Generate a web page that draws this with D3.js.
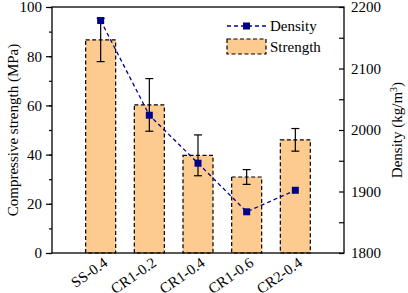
<!DOCTYPE html>
<html>
<head>
<meta charset="utf-8">
<script src="https://cdn.jsdelivr.net/npm/d3@7"></script>
<style>
  html, body { margin: 0; padding: 0; background: #fff; }
</style>
</head>
<body>
<div id="chart"></div>
<script>
// data
const categories = ["SS-0.4", "CR1-0.2", "CR1-0.4", "CR1-0.6", "CR2-0.4"];
const strength = [86.6, 60.2, 39.7, 30.9, 46.0];
const strengthErr = [8.8, 10.7, 8.3, 3.0, 4.6];
const density = [2178, 2024, 1946, 1867, 1902];
const leftTicks = [0, 20, 40, 60, 80, 100];
const rightTicks = [1800, 1900, 2000, 2100, 2200];

const width = 408, height = 293;
const margin = { top: 7, right: 64, bottom: 40, left: 52 };
const x0 = margin.left, x1 = width - margin.right;
const y0 = height - margin.bottom, y1 = margin.top;

// pick a serif face that is really installed
function pickFont(list) {
    const ctx = document.createElement("canvas").getContext("2d");
    const probe = "Compressive strength 0123";
    ctx.font = "40px monospace";
    const base = ctx.measureText(probe).width;
    for (const f of list) {
        ctx.font = `40px "${f}", monospace`;
        if (Math.abs(ctx.measureText(probe).width - base) > 0.5) return `"${f}", serif`;
    }
    return "serif";
}
const serif = pickFont(["Liberation Serif", "Times New Roman", "Tinos", "DejaVu Serif", "Noto Serif", "FreeSerif"]);
const barFill = "#fdcb8f";
const lineColor = "#00008b";
const fontSize = 15;

const svg = d3.select("#chart").append("svg")
    .attr("width", width)
    .attr("height", height)
    .style("font-family", serif);

const xScale = d3.scalePoint().domain(categories).range([x0, x1]).padding(1);
const yLeft = d3.scaleLinear().domain([0, 100]).range([y0, y1]);
const yRight = d3.scaleLinear().domain([1800, 2200]).range([y0, y1]);

// bars
const barW = 30;
svg.append("g").selectAll("rect")
    .data(categories)
    .join("rect")
    .attr("x", (d) => xScale(d) - barW / 2)
    .attr("y", (d, i) => yLeft(strength[i]))
    .attr("width", barW)
    .attr("height", (d, i) => yLeft(0) - yLeft(strength[i]))
    .attr("fill", barFill)
    .attr("stroke", "#000")
    .attr("stroke-width", 1.2)
    .attr("stroke-dasharray", "4,2.5");

// error bars
const errG = svg.append("g").attr("stroke", "#000").attr("stroke-width", 1.2);
categories.forEach((c, i) => {
    const cx = xScale(c);
    const hi = yLeft(strength[i] + strengthErr[i]);
    const lo = yLeft(strength[i] - strengthErr[i]);
    errG.append("line").attr("x1", cx).attr("x2", cx).attr("y1", hi).attr("y2", lo);
    errG.append("line").attr("x1", cx - 4).attr("x2", cx + 4).attr("y1", hi).attr("y2", hi);
    errG.append("line").attr("x1", cx - 4).attr("x2", cx + 4).attr("y1", lo).attr("y2", lo);
});

// density line
const line = d3.line()
    .x((d, i) => xScale(categories[i]))
    .y((d) => yRight(d));
svg.append("path")
    .datum(density)
    .attr("d", line)
    .attr("fill", "none")
    .attr("stroke", lineColor)
    .attr("stroke-width", 1.3)
    .attr("stroke-dasharray", "4,3");
svg.append("g").selectAll("rect")
    .data(density)
    .join("rect")
    .attr("x", (d, i) => xScale(categories[i]) - 3.5)
    .attr("y", (d) => yRight(d) - 3.5)
    .attr("width", 7)
    .attr("height", 7)
    .attr("fill", lineColor);

// frame
svg.append("rect")
    .attr("x", x0).attr("y", y1)
    .attr("width", x1 - x0).attr("height", y0 - y1)
    .attr("fill", "none")
    .attr("stroke", "#000")
    .attr("stroke-width", 1.3);

// left axis
const leftMinor = svg.append("g").attr("transform", `translate(${x0},0)`)
    .call(d3.axisLeft(yLeft).tickValues(d3.range(0, 101, 10)).tickSize(3).tickFormat(""));
leftMinor.select(".domain").remove();
const leftMajor = svg.append("g").attr("transform", `translate(${x0},0)`)
    .call(d3.axisLeft(yLeft).tickValues(leftTicks).tickSize(6).tickPadding(4));
leftMajor.select(".domain").remove();

// right axis (ticks inward)
const rightMinor = svg.append("g").attr("transform", `translate(${x1},0)`)
    .call(d3.axisLeft(yRight).tickValues(d3.range(1800, 2201, 50)).tickSize(5).tickFormat(""));
rightMinor.select(".domain").remove();
const rightMajor = svg.append("g").attr("transform", `translate(${x1},0)`)
    .call(d3.axisRight(yRight).tickValues(rightTicks).tickSize(0).tickPadding(7).tickFormat(d3.format("d")));
rightMajor.select(".domain").remove();

svg.selectAll(".tick line").attr("stroke-width", 1.2);
svg.selectAll("g").attr("font-family", null);
svg.selectAll(".tick text")
    .attr("font-size", fontSize)
    .style("font-family", serif)
    .attr("fill", "#000");

// x tick labels, rotated
svg.append("g").selectAll("text")
    .data(categories)
    .join("text")
    .attr("transform", (d) => `translate(${xScale(d) + 8},${y0 + 12}) rotate(-35)`)
    .attr("text-anchor", "end")
    .attr("font-size", 15)
    .style("font-family", serif)
    .text((d) => d);

// axis titles
svg.append("text")
    .attr("transform", `translate(13,${(y0 + y1) / 2}) rotate(-90)`)
    .attr("text-anchor", "middle")
    .attr("dy", "0.35em")
    .attr("font-size", 15)
    .style("font-family", serif)
    .text("Compressive strength (MPa)");

const rt = svg.append("text")
    .attr("transform", `translate(397,${(y0 + y1) / 2}) rotate(-90)`)
    .attr("text-anchor", "middle")
    .attr("dy", "0.35em")
    .attr("font-size", 15)
    .style("font-family", serif);
rt.append("tspan").text("Density (kg/m");
rt.append("tspan").attr("baseline-shift", "super").attr("font-size", 10).text("3");
rt.append("tspan").text(")");

// legend
const lg = svg.append("g");
lg.append("line")
    .attr("x1", 227).attr("x2", 266).attr("y1", 26).attr("y2", 26)
    .attr("stroke", lineColor).attr("stroke-width", 1.3).attr("stroke-dasharray", "4,3");
lg.append("rect").attr("x", 243).attr("y", 22.5).attr("width", 7).attr("height", 7).attr("fill", lineColor);
lg.append("text").attr("x", 270).attr("y", 31).attr("font-size", fontSize).style("font-family", serif).text("Density");
lg.append("rect")
    .attr("x", 227).attr("y", 39).attr("width", 39).attr("height", 15)
    .attr("fill", barFill).attr("stroke", "#000").attr("stroke-width", 1.2).attr("stroke-dasharray", "4,2.5");
lg.append("text").attr("x", 270).attr("y", 52).attr("font-size", fontSize).style("font-family", serif).text("Strength");
</script>
</body>
</html>
